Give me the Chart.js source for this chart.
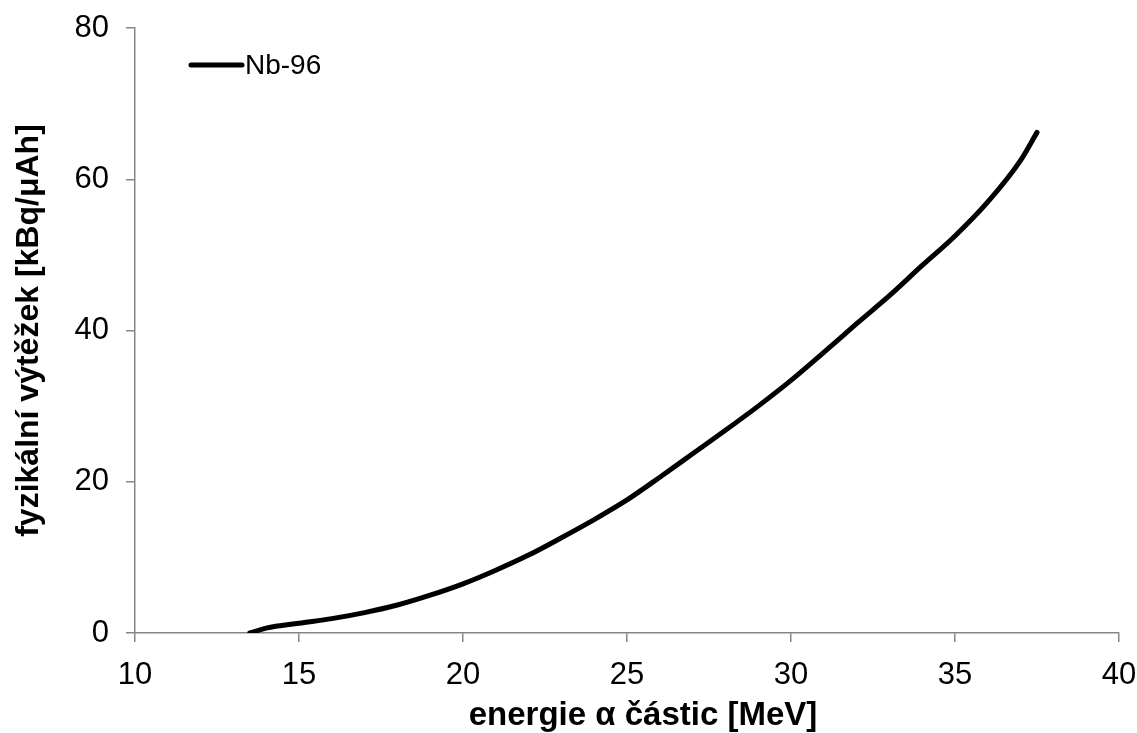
<!DOCTYPE html>
<html>
<head>
<meta charset="utf-8">
<script src="https://cdn.jsdelivr.net/npm/chart.js@4/dist/chart.umd.min.js"></script>
<style>
  html, body { margin: 0; padding: 0; background: #fff; }
  #wrap { width: 1137px; height: 733px; }
</style>
</head>
<body>
<div id="wrap"><canvas id="vytezek"></canvas></div>
<script>
// energie alfa castic [MeV] a fyzikalni vytezek Nb-96 [kBq/uAh]
const energie = [13.5, 14, 15, 16, 17, 18, 19, 20, 21, 22, 23, 24, 25, 26, 27, 28, 29, 30, 31, 32, 33, 34, 35, 36, 37, 37.5];
const vytezekNb96 = [0, 0.65, 1.3, 1.9, 2.7, 3.7, 5.0, 6.5, 8.3, 10.3, 12.6, 15.0, 17.6, 20.6, 23.7, 26.8, 30.0, 33.4, 37.1, 40.9, 44.6, 48.6, 52.5, 57.0, 62.5, 66.2];
const xTicks = [10, 15, 20, 25, 30, 35, 40];
const yTicks = [0, 20, 40, 60, 80];
const xNadpis = 'energie α částic [MeV]';

const font = 'Arial, "Liberation Sans", sans-serif';

// legenda uvnitr grafu (cara + popisek) a popisek osy x
const popisky = {
  id: 'popisky',
  afterDraw(chart) {
    const ctx = chart.ctx;
    const ds = chart.data.datasets[0];
    ctx.save();
    ctx.strokeStyle = '#000';
    ctx.lineWidth = 5;
    ctx.lineCap = 'round';
    ctx.beginPath();
    ctx.moveTo(191, 65);
    ctx.lineTo(242, 65);
    ctx.stroke();
    ctx.fillStyle = '#000';
    ctx.font = '28px ' + font;
    ctx.textBaseline = 'middle';
    ctx.fillText(ds.label, 245, 66);

    ctx.font = 'bold 33px ' + font;
    ctx.textAlign = 'center';
    ctx.fillText(xNadpis, 643, 716);
    ctx.restore();
  }
};

new Chart(document.getElementById('vytezek'), {
  type: 'line',
  data: {
    datasets: [{
      label: 'Nb-96',
      data: energie.map((e, i) => ({ x: e, y: vytezekNb96[i] })),
      borderColor: '#000',
      borderWidth: 5,
      borderCapStyle: 'round',
      pointRadius: 0,
      cubicInterpolationMode: 'monotone',
      fill: false
    }]
  },
  options: {
    responsive: true,
    maintainAspectRatio: false,
    animation: false,
    layout: { padding: { top: 28, right: 18, left: 10, bottom: 0 } },
    plugins: {
      legend: { display: false },
      tooltip: { enabled: false }
    },
    scales: {
      x: {
        type: 'linear',
        min: 10,
        max: 40,
        afterBuildTicks: (s) => { s.ticks = xTicks.map(v => ({ value: v })); },
        afterFit: (s) => { s.height = 100; s.paddingLeft = 0; s.paddingRight = 0; },
        border: { display: true, color: '#868686', width: 1.5 },
        grid: { drawOnChartArea: false, color: '#868686', tickLength: 9, lineWidth: 1.5 },
        ticks: { color: '#000', font: { family: font, size: 31 }, padding: 15, maxRotation: 0 },
        title: { display: false }
      },
      y: {
        type: 'linear',
        min: 0,
        max: 80,
        afterBuildTicks: (s) => { s.ticks = yTicks.map(v => ({ value: v })); },
        afterFit: (s) => { s.width = 125; s.paddingTop = 0; s.paddingBottom = 0; },
        border: { display: true, color: '#868686', width: 1.5 },
        grid: { drawOnChartArea: false, color: '#868686', tickLength: 9, lineWidth: 1.5 },
        ticks: { color: '#000', font: { family: font, size: 31 }, padding: 17 },
        title: {
          display: true,
          text: 'fyzikální výtěžek [kBq/μAh]',
          color: '#000',
          font: { family: font, size: 32, weight: 'bold' },
          padding: { top: 0, bottom: 0 }
        }
      }
    }
  },
  plugins: [popisky]
});
</script>
</body>
</html>
